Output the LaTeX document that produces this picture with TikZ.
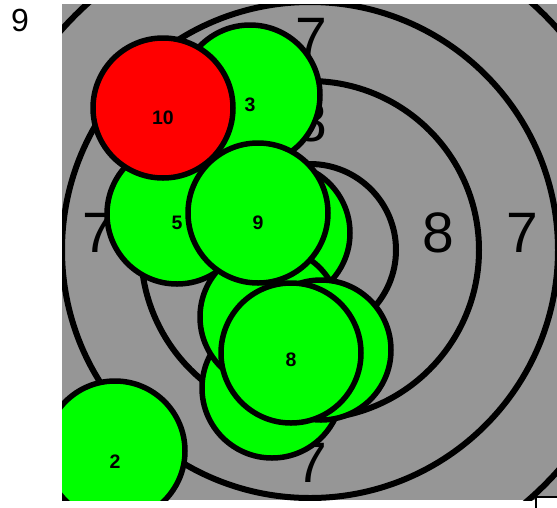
\documentclass[tikz,border=0pt]{standalone}
\usepackage{fontspec}
\setmainfont{Liberation Sans}
\usepackage{xcolor}
\usepackage{tikz}

\definecolor{hitgreen}{RGB}{0,255,0}
\definecolor{hitred}{RGB}{255,0,0}
\definecolor{targetgray}{RGB}{150,150,150}

\tikzset{
  shot/.style={draw, circle, line width=5.5pt, minimum size=140pt, inner sep=0pt, fill=hitgreen},
  ring/.style={draw, line width=6pt},
  ringlabel/.style={inner sep=0pt, font=\fontsize{57}{57}\selectfont},
  shotlabel/.style={inner sep=0pt, font=\fontsize{19.5}{20}\selectfont\bfseries}
}

\begin{document}
\begin{tikzpicture}[x=1pt, y=-1pt]
        \useasboundingbox (0,0) rectangle (557,507);
        \node (Page) [inner sep=0pt, font=\fontsize{32}{32}\selectfont] at (20,20) {9};

        \begin{scope}
        \clip (62,4) rectangle (557,500);
        \fill [targetgray] (62,4) rectangle (557,500);

        % rings
        \coordinate (Ctr) at (310,250);
        \draw [ring] (Ctr) circle (86pt);
        \draw [ring] (Ctr) circle (169pt);
        \draw [ring] (Ctr) circle (248pt);
        \draw [ring] (Ctr) circle (332pt);

        \node (EightE) [ringlabel] at (438,233) {8};
        \node (EightN) [ringlabel] at (311,122) {8};
        \node (SevenE) [ringlabel] at (522,233) {7};
        \node (SevenW) [ringlabel] at (98,233) {7};
        \node (SevenN) [ringlabel] at (311,38) {7};
        \node (SevenS) [ringlabel] at (311,463) {7};

        % hits
        \node (Hit2) [shot] at (115,451) {};
        \node [shotlabel] at ([yshift=-11pt]Hit2.center) {2};
        \node (Hit3) [shot] at (250,95) {};
        \node [shotlabel] at ([yshift=-10pt]Hit3.center) {3};
        \node (Hit5) [shot] at (177,214) {};
        \node [shotlabel] at ([yshift=-9pt]Hit5.center) {5};
        \node (Hit10) [shot, fill=hitred] at (163,108) {};
        \node [shotlabel] at ([yshift=-10pt]Hit10.center) {10};
        \node (HitX) [shot] at (280,233) {};
        \node (HitB) [shot] at (272,388) {};
        \node (HitA) [shot] at (270,317) {};
        \node (HitC) [shot] at (321,350) {};
        \node (Hit9) [shot] at (258,213) {};
        \node [shotlabel] at ([yshift=-10pt]Hit9.center) {9};
        \node (Hit8) [shot] at (291,353) {};
        \node [shotlabel] at ([yshift=-7pt]Hit8.center) {8};
        \end{scope}

        \draw [line width=2pt, fill=white] (536,497) rectangle (575,525);
      \end{tikzpicture}
\end{document}
